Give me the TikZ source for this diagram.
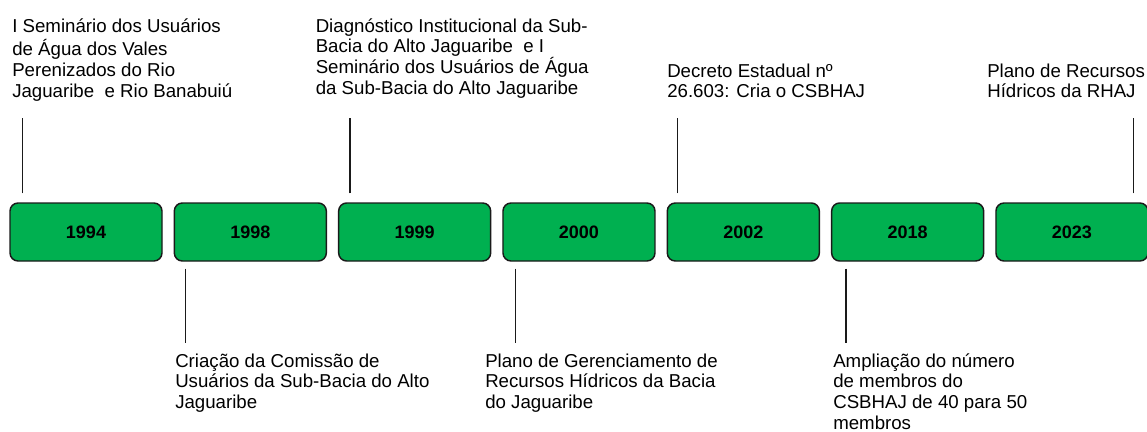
\documentclass[tikz,border=0pt]{standalone}
\usepackage{fontspec}
\setmainfont{Liberation Sans}
\usetikzlibrary{positioning}
\definecolor{verdeano}{HTML}{00B050}
\definecolor{tracocinza}{HTML}{1A1A1A}
\tikzset{
  anobox/.style={draw=tracocinza, fill=verdeano, line width=1.1pt,
    rounded corners=6pt, minimum width=114pt, minimum height=43.5pt,
    inner sep=0pt, font=\bfseries\fontsize{13.5}{15}\selectfont},
  evento/.style={anchor=north west, inner sep=0pt, align=left,
    font=\fontsize{14}{15.5}\selectfont},
  marco/.style={draw=tracocinza, line width=1.1pt}
}
\begin{document}
\begin{tikzpicture}[x=0.75pt, y=-0.75pt]
  \useasboundingbox (0,0) rectangle (1147,432);
  % year boxes of the timeline
  \foreach \ano [count=\i from 0] in {1994,1998,1999,2000,2002,2018,2023}
    \node[anobox] (a\ano) at ({86+164.33*\i},232) {\ano};

  % events above the timeline
  \node[evento] (e1994) at (12,17.5) {\strut I Seminário dos Usuários\\
    de Água dos Vales\\ Perenizados do Rio\\ Jaguaribe\ \ e Rio Banabuiú};
  \node[evento] (e1999) at (315.5,17.5) {\strut Diagnóstico Institucional da Sub-\\
    Bacia do Alto Jaguaribe\ \ e I\\ Seminário dos Usuários de Água\\
    da Sub-Bacia do Alto Jaguaribe};
  \node[evento] (e2002) at (667,62.5) {\strut Decreto Estadual nº\\ 26.603: Cria o CSBHAJ};
  \node[evento] (e2023) at (987,62.5) {\strut Plano de Recursos\\ Hídricos da RHAJ};

  % events below the timeline
  \node[evento] (e1998) at (175,352.5) {\strut Criação da Comissão de\\
    Usuários da Sub-Bacia do Alto\\ Jaguaribe};
  \node[evento] (e2000) at (485,352.5) {\strut Plano de Gerenciamento de\\
    Recursos Hídricos da Bacia\\ do Jaguaribe};
  \node[evento] (e2018) at (833,352.5) {\strut Ampliação do número\\
    de membros do\\ CSBHAJ de 40 para 50\\ membros};

  % ticks up
  \draw[marco] (a1994.north west) ++(13,-9) -- ++(0,-75);
  \draw[marco] (a1999.north west) ++(12.3,-9) -- ++(0,-75);
  \draw[marco] (a2002.north west) ++(10.7,-9) -- ++(0,-75);
  \draw[marco] (a2023.north west) ++(138,-9) -- ++(0,-75);
  % ticks down
  \draw[marco] (a1998.south west) ++(11.7,7) -- ++(0,74);
  \draw[marco] (a2000.south west) ++(13,7) -- ++(0,74);
  \draw[marco] (a2018.south west) ++(15.3,7) -- ++(0,74);
\end{tikzpicture}
\end{document}
